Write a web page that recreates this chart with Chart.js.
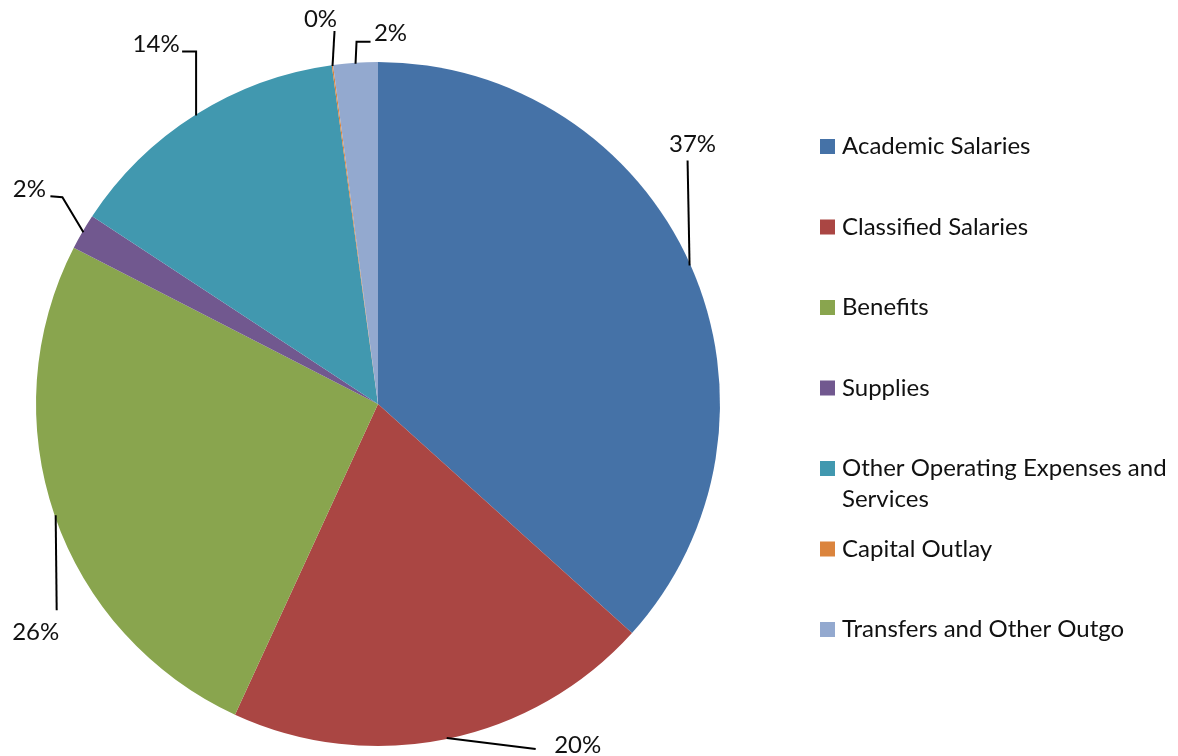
<!DOCTYPE html>
<html>
<head>
<meta charset="utf-8">
<script src="https://cdn.jsdelivr.net/npm/chart.js@4/dist/chart.umd.min.js"></script>
<style>
  html, body { margin: 0; padding: 0; background: #fff; }
  #wrap { width: 1178px; height: 756px; }
</style>
</head>
<body>
<div id="wrap"><canvas id="budgetPie" width="1178" height="756"></canvas></div>
<script>
const categories = [
    "Academic Salaries",
    "Classified Salaries",
    "Benefits",
    "Supplies",
    "Other Operating Expenses and Services",
    "Capital Outlay",
    "Transfers and Other Outgo"
];
const shares = [36.7, 20.2, 25.7, 1.7, 13.6, 0.06, 2.1];
const sliceColours = ["#4572A7", "#AA4643", "#89A54E", "#71588F", "#4198AF", "#DB843D", "#93A9CF"];

// leader lines: bends relative to the point where the line leaves the slice, then label centre
const leaders = [
    { bends: [[-2, -105]], label: [3, -121] },
    { bends: [[89, 11]], label: [131, 7] },
    { bends: [[1, 95]], label: [-20, 117] },
    { bends: [[-21, -35], [-33, -36]], label: [-54, -43] },
    { bends: [[0, -64], [-14, -64]], label: [-40, -71] },
    { bends: [[2, -35]], label: [-12, -47] },
    { bends: [[1, -22], [15, -22]], label: [35, -30] }
];

const FONT = "Lato, 'DejaVu Sans', sans-serif";

/* ---- percent labels with leader lines ---- */
const leaderLabels = {
    id: 'leaderLabels',
    afterDatasetsDraw(chart) {
        const ctx = chart.ctx;
        const meta = chart.getDatasetMeta(0);
        const data = chart.data.datasets[0].data;
        const total = data.reduce((a, b) => a + b, 0);
        ctx.save();
        ctx.strokeStyle = "#000";
        ctx.lineWidth = 2;
        ctx.fillStyle = "#111";
        ctx.font = "24px " + FONT;
        ctx.textAlign = "center";
        ctx.textBaseline = "middle";
        meta.data.forEach((arc, i) => {
            const p = arc.getProps(['x', 'y', 'startAngle', 'endAngle', 'outerRadius'], true);
            const mid = (p.startAngle + p.endAngle) / 2;
            const ex = p.x + Math.cos(mid) * (p.outerRadius - 1);
            const ey = p.y + Math.sin(mid) * (p.outerRadius - 1);
            const l = leaders[i];
            ctx.beginPath();
            ctx.moveTo(ex, ey);
            l.bends.forEach(b => ctx.lineTo(ex + b[0], ey + b[1]));
            ctx.stroke();
            const pct = Math.round(data[i] / total * 100) + "%";
            ctx.fillText(pct, ex + l.label[0], ey + l.label[1]);
        });
        ctx.restore();
    }
};

/* ---- legend on the right, wraps long names ---- */
const sideLegend = {
    id: 'sideLegend',
    afterDraw(chart) {
        const ctx = chart.ctx;
        const labels = chart.data.labels;
        const cols = chart.data.datasets[0].backgroundColor;
        const boxX = 820, textX = 842, top = 146.5, step = 80.5, lineH = 31, maxW = 334;
        ctx.save();
        ctx.font = "24px " + FONT;
        ctx.textBaseline = "middle";
        ctx.textAlign = "left";
        labels.forEach((name, i) => {
            const cy = top + i * step;
            ctx.fillStyle = cols[i];
            ctx.fillRect(boxX, cy - 7.5, 15, 15);
            // word wrap
            const words = name.split(" ");
            const lines = [];
            let cur = "";
            words.forEach(w => {
                const test = cur ? cur + " " + w : w;
                if (ctx.measureText(test).width > maxW && cur) {
                    lines.push(cur);
                    cur = w;
                } else {
                    cur = test;
                }
            });
            lines.push(cur);
            ctx.fillStyle = "#111";
            lines.forEach((ln, k) => ctx.fillText(ln, textX, cy + k * lineH));
        });
        ctx.restore();
    }
};

new Chart(document.getElementById('budgetPie'), {
    type: 'pie',
    data: {
        labels: categories,
        datasets: [{
            data: shares,
            backgroundColor: sliceColours,
            borderWidth: 0
        }]
    },
    options: {
        responsive: false,
        animation: false,
        devicePixelRatio: 1,
        layout: { padding: { left: 36, top: 62, right: 458, bottom: 10 } },
        plugins: {
            legend: { display: false },
            tooltip: { enabled: false }
        }
    },
    plugins: [leaderLabels, sideLegend]
});
</script>
</body>
</html>
